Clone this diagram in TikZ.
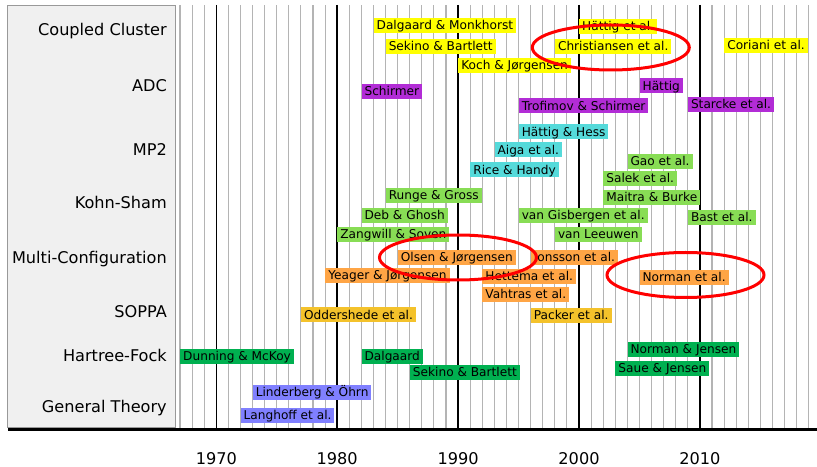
\documentclass[tikz,border=0pt]{standalone}
\usepackage{fontspec}
\setmainfont{DejaVu Sans}
\usepackage{tikz}
\definecolor{ccyellow}{HTML}{FFFF00}
\definecolor{adcpurple}{HTML}{B22CD6}
\definecolor{mptcyan}{HTML}{55DADA}
\definecolor{kslime}{HTML}{88DD55}
\definecolor{mcorange}{HTML}{FFA545}
\definecolor{soppagold}{HTML}{F4C22B}
\definecolor{hfgreen}{HTML}{00B050}
\definecolor{gtblue}{HTML}{8080FF}
\definecolor{panelgray}{HTML}{F0F0F0}
\definecolor{gridgray}{HTML}{B4B4B4}
% year -> horizontal position
\newcommand{\yrx}[1]{{458.1+12.09*(#1-1990)}}
\tikzset{
    paper/.style={
        anchor=west,
        inner xsep=3bp,
        inner ysep=0pt,
        text height=11.6bp,
        text depth=3.4bp,
        font=\fontsize{12.2}{14}\selectfont
    },
    cc/.style={paper, fill=ccyellow},
    adc/.style={paper, fill=adcpurple},
    mpt/.style={paper, fill=mptcyan},
    ks/.style={paper, fill=kslime},
    mc/.style={paper, fill=mcorange},
    soppa/.style={paper, fill=soppagold},
    hf/.style={paper, fill=hfgreen},
    gt/.style={paper, fill=gtblue},
    method/.style={anchor=base east, inner sep=0pt, font=\fontsize{16.2}{19}\selectfont},
    yearlab/.style={anchor=base, inner sep=0pt, font=\fontsize{16.2}{19}\selectfont},
    yearline/.style={draw=gridgray, line width=1.1bp},
    decade/.style={draw=black, line width=1.6bp},
    ring/.style={draw=red, line width=3bp}
}

\begin{document}
\begin{tikzpicture}[x=1bp, y=-1bp]

    \useasboundingbox (0,0) rectangle (817,467);

    % Method panel
    \draw[fill=panelgray, draw=black!40, line width=1bp] (7.3,6) rectangle (175.7,427.3);
    \node[method] (mcc) at (167,36) {Coupled Cluster};
    \node[method] (madc) at (167,91.7) {ADC};
    \node[method] (mmp) at (167,155.5) {MP2};
    \node[method] (mks) at (167,208.3) {Kohn-Sham};
    \node[method] (mmc) at (167,264) {Multi-Configuration};
    \node[method] (msop) at (167,317.3) {SOPPA};
    \node[method] (mhf) at (167,362) {Hartree-Fock};
    \node[method] (mgt) at (167,412.3) {General Theory};

    % Year grid
    \foreach \y in {1967,...,2019}
        \draw[yearline] (\yrx{\y},5.5) -- (\yrx{\y},428);
    \foreach \y in {1970,1980,...,2010} {
        \draw[decade] (\yrx{\y},5) -- (\yrx{\y},428);
        \node[yearlab] (yl\y) at (\yrx{\y},464.6) {\y};
    }
    \draw[black, line width=2.6bp] (8.3,429.3) -- (817,429.3);

    % Coupled Cluster
    \node[cc] (cc1) at (\yrx{1983},25.8) {Dalgaard \& Monkhorst};
    \node[cc] (cc2) at (\yrx{1984},46.7) {Sekino \& Bartlett};
    \node[cc] (cc3) at (\yrx{1990},65.8) {Koch \& Jørgensen};
    \node[cc] (cc4) at (\yrx{2000},26.7) {Hättig et al.};
    \node[cc] (cc5) at (\yrx{1998},46.8) {Christiansen et al.};
    \node[cc] (cc6) at (\yrx{2012},45.8) {Coriani et al.};

    % ADC
    \node[adc] (adc1) at (\yrx{1982},91.2) {Schirmer};
    \node[adc] (adc2) at (\yrx{2005},86) {Hättig};
    \node[adc] (adc3) at (\yrx{1995},106) {Trofimov \& Schirmer};
    \node[adc] (adc4) at (\yrx{2009},104.8) {Starcke et al.};

    % MP2
    \node[mpt] (mp1) at (\yrx{1995},132) {Hättig \& Hess};
    \node[mpt] (mp2) at (\yrx{1993},150) {Aiga et al.};
    \node[mpt] (mp3) at (\yrx{1991},170) {Rice \& Handy};

    % Kohn-Sham
    \node[ks] (ks1) at (\yrx{2004},161.2) {Gao et al.};
    \node[ks] (ks2) at (\yrx{2002},178.8) {Salek et al.};
    \node[ks] (ks3) at (\yrx{2002},197.8) {Maitra \& Burke};
    \node[ks] (ks4) at (\yrx{2009},217.2) {Bast et al.};
    \node[ks] (ks5) at (\yrx{1984},195.8) {Runge \& Gross};
    \node[ks] (ks6) at (\yrx{1982},215.2) {Deb \& Ghosh};
    \node[ks] (ks7) at (\yrx{1980},234.5) {Zangwill \& Soven};
    \node[ks] (ks8) at (\yrx{1995},215.5) {van Gisbergen et al.};
    \node[ks] (ks9) at (\yrx{1998},234.5) {van Leeuwen};

    % Multi-Configuration
    \node[mc] (mc1) at (\yrx{1985},257.2) {Olsen \& Jørgensen};
    \node[mc] (mc2) at (\yrx{1996},257.7) {Jonsson et al.};
    \node[mc] (mc3) at (\yrx{1979},275.8) {Yeager \& Jørgensen};
    \node[mc] (mc4) at (\yrx{1992},276.5) {Hettema et al.};
    \node[mc] (mc5) at (\yrx{1992},294.3) {Vahtras et al.};
    \node[mc] (mc6) at (\yrx{2005},277.5) {Norman et al.};

    % SOPPA
    \node[soppa] (sp1) at (\yrx{1977},315) {Oddershede et al.};
    \node[soppa] (sp2) at (\yrx{1996},315.2) {Packer et al.};

    % Hartree-Fock
    \node[hf] (hf1) at (\yrx{1967},356.2) {Dunning \& McKoy};
    \node[hf] (hf2) at (\yrx{1982},356.2) {Dalgaard};
    \node[hf] (hf3) at (\yrx{1986},372.7) {Sekino \& Bartlett};
    \node[hf] (hf4) at (\yrx{2004},349.7) {Norman \& Jensen};
    \node[hf] (hf5) at (\yrx{2003},368.8) {Saue \& Jensen};

    % General Theory
    \node[gt] (gt1) at (\yrx{1973},392.8) {Linderberg \& Öhrn};
    \node[gt] (gt2) at (\yrx{1972},415) {Langhoff et al.};

    % Highlights
    \draw[ring] (610.8,47.5) ellipse [x radius=78.5bp, y radius=22.5bp];
    \draw[ring] (458,257.5) ellipse [x radius=78.5bp, y radius=22.5bp];
    \draw[ring] (685.5,275) ellipse [x radius=78.5bp, y radius=22.5bp];

\end{tikzpicture}
\end{document}
